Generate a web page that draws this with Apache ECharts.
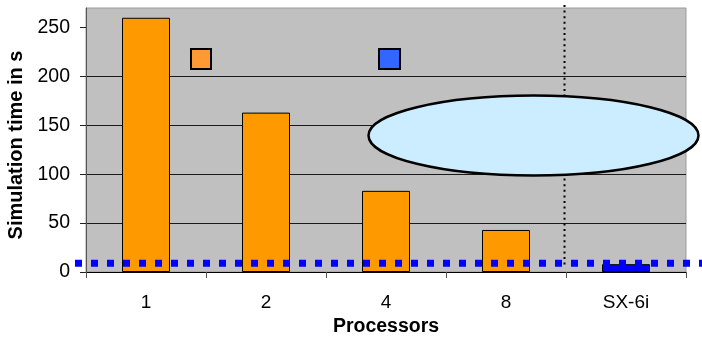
<!DOCTYPE html>
<html>
<head>
<meta charset="utf-8">
<script src="https://cdn.jsdelivr.net/npm/echarts@6/dist/echarts.min.js"></script>
<style>
html,body{margin:0;padding:0;background:#fff;}
#chart{width:702px;height:337px;}
</style>
</head>
<body>
<div id="chart"></div>
<script>
// ---- data ----
var categories = ['1', '2', '4', '8', 'SX-6i'];
var simTimes = [260, 163, 83, 43, 8];
var referenceLine = 9;            // blue dotted level (SX-6i time)
var yTicks = [0, 50, 100, 150, 200, 250];
var yMax = 270;

var FONT = '"Liberation Sans", Arial, sans-serif';
var chart = echarts.init(document.getElementById('chart'), null, {renderer: 'canvas'});

var barData = simTimes.map(function (v, i) {
  return {
    value: v,
    itemStyle: {color: categories[i] === 'SX-6i' ? '#0000FF' : '#FF9900'}
  };
});

chart.setOption({
  animation: false,
  backgroundColor: '#ffffff',
  textStyle: {fontFamily: FONT},
  grid: {
    left: 86, right: 16, top: 8, bottom: 65,
    outerBoundsMode: 'none', containLabel: false,
    show: true, backgroundColor: '#C0C0C0', borderColor: '#9A9A9A', borderWidth: 1
  },
  xAxis: {
    type: 'category',
    data: categories,
    boundaryGap: true,
    axisLine: {show: true, lineStyle: {color: '#000', width: 1}},
    axisTick: {show: true, length: 6, alignWithLabel: false, lineStyle: {color: '#555'}},
    axisLabel: {color: '#000', fontSize: 19, fontFamily: FONT, margin: 21},
    name: 'Processors',
    nameLocation: 'middle',
    nameGap: 45,
    nameTextStyle: {color: '#000', fontSize: 19.5, fontWeight: 'bold', fontFamily: FONT}
  },
  yAxis: {
    type: 'value',
    min: 0, max: yMax, interval: 50,
    axisLine: {show: true, lineStyle: {color: '#555', width: 1}},
    axisTick: {show: true, length: 6, customValues: yTicks, lineStyle: {color: '#222'}},
    axisLabel: {color: '#000', fontSize: 19.5, fontFamily: FONT, margin: 16, customValues: yTicks},
    splitLine: {show: true, showMaxLine: false, lineStyle: {color: '#1a1a1a', width: 1}},
    name: 'Simulation time in s',
    nameLocation: 'middle',
    nameRotate: 90,
    nameGap: 58,
    nameTextStyle: {color: '#000', fontSize: 20, fontWeight: 'bold', fontFamily: FONT, padding: [0, 10, 0, 0]}
  },
  series: [{
    type: 'bar',
    data: barData,
    barWidth: 48,
    itemStyle: {borderColor: '#000', borderWidth: 1}
  }]
});

// annotations positioned through the axes
var yRef = chart.convertToPixel({yAxisIndex: 0}, referenceLine);
var x8 = chart.convertToPixel({xAxisIndex: 0}, '8');
var xSX = chart.convertToPixel({xAxisIndex: 0}, 'SX-6i');
var xDiv = (x8 + xSX) / 2 - 1.5;
var yZero = chart.convertToPixel({yAxisIndex: 0}, 0);

chart.setOption({
  graphic: [
    {
      type: 'line', z: 100,
      shape: {x1: xDiv, y1: 5, x2: xDiv, y2: yZero - 4},
      style: {stroke: '#000', lineWidth: 2, lineDash: [2, 3.6]}
    },
    {
      type: 'ellipse', z: 101,
      shape: {cx: 533.5, cy: 135.5, rx: 165, ry: 40},
      style: {fill: '#CCECFF', stroke: '#000', lineWidth: 2.5}
    },
    {
      type: 'rect', z: 101,
      shape: {x: 191, y: 49, width: 20, height: 20},
      style: {fill: '#FF9933', stroke: '#000', lineWidth: 2}
    },
    {
      type: 'rect', z: 101,
      shape: {x: 379, y: 49, width: 21, height: 20},
      style: {fill: '#3366FF', stroke: '#000', lineWidth: 2}
    },
    {
      type: 'line', z: 102,
      shape: {x1: 75, y1: yRef, x2: 702, y2: yRef},
      style: {stroke: '#0000FF', lineWidth: 7, lineDash: [7, 9]}
    }
  ]
});
</script>
</body>
</html>
